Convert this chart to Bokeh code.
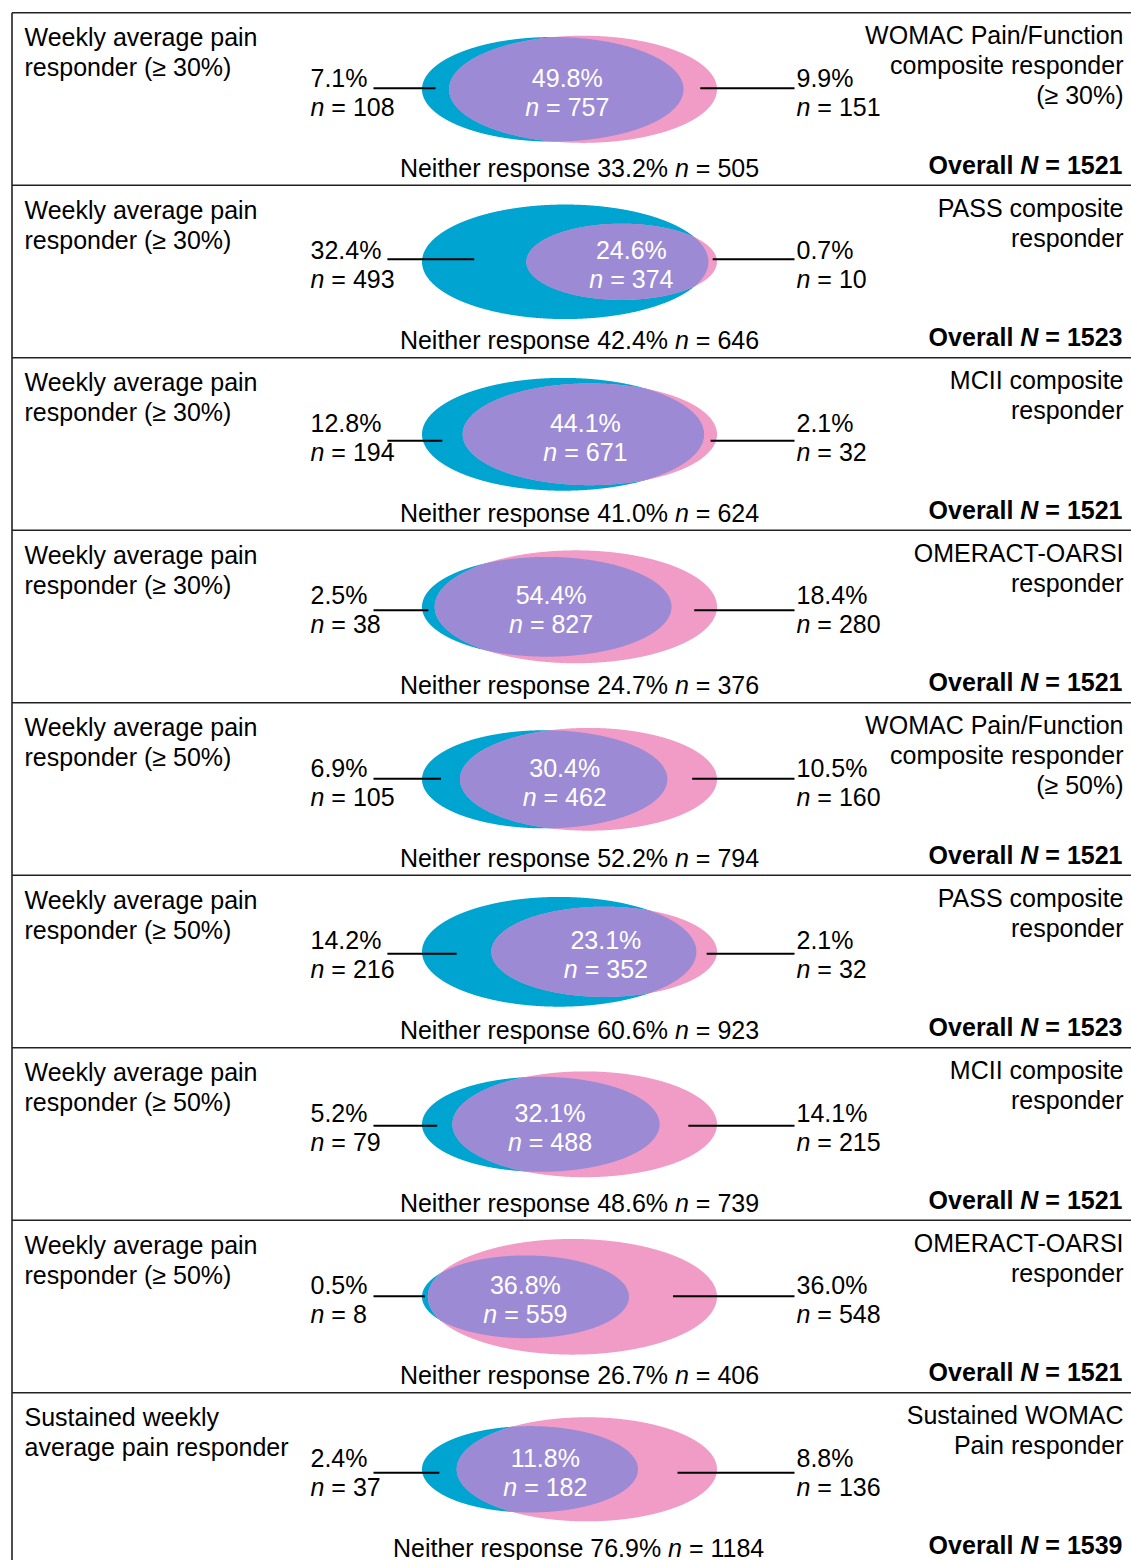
import math
import numpy as np
from bokeh.plotting import figure
from bokeh.models import Range1d
from bokeh.embed import file_html
from bokeh.resources import INLINE
from bokeh.core.properties import value

# ---------------- data ----------------
left_titles = [
    ["Weekly average pain", "responder (≥ 30%)"],
    ["Weekly average pain", "responder (≥ 30%)"],
    ["Weekly average pain", "responder (≥ 30%)"],
    ["Weekly average pain", "responder (≥ 30%)"],
    ["Weekly average pain", "responder (≥ 50%)"],
    ["Weekly average pain", "responder (≥ 50%)"],
    ["Weekly average pain", "responder (≥ 50%)"],
    ["Weekly average pain", "responder (≥ 50%)"],
    ["Sustained weekly", "average pain responder"],
]
right_titles = [
    ["WOMAC Pain/Function", "composite responder", "(≥ 30%)"],
    ["PASS composite", "responder"],
    ["MCII composite", "responder"],
    ["OMERACT-OARSI", "responder"],
    ["WOMAC Pain/Function", "composite responder", "(≥ 50%)"],
    ["PASS composite", "responder"],
    ["MCII composite", "responder"],
    ["OMERACT-OARSI", "responder"],
    ["Sustained WOMAC", "Pain responder"],
]
left_pct = ["7.1%", "32.4%", "12.8%", "2.5%", "6.9%", "14.2%", "5.2%", "0.5%", "2.4%"]
left_n = [108, 493, 194, 38, 105, 216, 79, 8, 37]
both_pct = ["49.8%", "24.6%", "44.1%", "54.4%", "30.4%", "23.1%", "32.1%", "36.8%", "11.8%"]
both_n = [757, 374, 671, 827, 462, 352, 488, 559, 182]
right_pct = ["9.9%", "0.7%", "2.1%", "18.4%", "10.5%", "2.1%", "14.1%", "36.0%", "8.8%"]
right_n = [151, 10, 32, 280, 160, 32, 215, 548, 136]
neither_pct = ["33.2%", "42.4%", "41.0%", "24.7%", "52.2%", "60.6%", "48.6%", "26.7%", "76.9%"]
neither_n = [505, 646, 624, 376, 794, 923, 739, 406, 1184]
overall_n = [1521, 1523, 1521, 1521, 1521, 1523, 1521, 1521, 1539]

# ---------------- style ----------------
FONT = "Liberation Sans"
FS = 25.0
FS_S = "25px"
MID = 0.35 * FS          # baseline -> middle offset
BLUE = "#00A4D0"
PINK = "#F19CC6"
PURPLE = "#9C8BD4"
FRAME = "#222222"

W, H = 1131, 1560
PANEL_TOP0 = 12.3
PANEL_H = 172.5
UNION_LEFT = 421.5
UNION_W = 295.0
ASPECT = 2.5
# small per-panel layout nudges (px): leader-line height, overlap-label shift
LINE_DY = [-1.5, -3, 6, 3, -1, 1.5, 1, -1, 3]
LABEL_DX = [1, 14, 2, -2, 1, 12, -6, -3, -2]

# Arial / Liberation Sans advance widths (per 1000 em)
REG = {" ": 278, ".": 278, "%": 889, "=": 584, "N": 722, "e": 556, "i": 222,
       "t": 278, "h": 556, "r": 333, "s": 500, "p": 556, "o": 556, "n": 556}
BOLD = {" ": 278, "=": 584, "O": 778, "v": 556, "e": 556, "r": 389, "a": 556,
        "l": 278, "N": 722}


def tw(s, table=REG):
    return sum(table.get(c, 556) for c in s) / 1000.0 * FS


def lens_area(r1, r2, d):
    if d >= r1 + r2:
        return 0.0
    if d <= abs(r1 - r2):
        return math.pi * min(r1, r2) ** 2
    a = r1 * r1 * math.acos((d * d + r1 * r1 - r2 * r2) / (2 * d * r1))
    b = r2 * r2 * math.acos((d * d + r2 * r2 - r1 * r1) / (2 * d * r2))
    c = 0.5 * math.sqrt((-d + r1 + r2) * (d + r1 - r2) * (d - r1 + r2) * (d + r1 + r2))
    return a + b - c


def solve(A1, A2, ov):
    r1, r2 = math.sqrt(A1 / math.pi), math.sqrt(A2 / math.pi)
    lo, hi = abs(r1 - r2) + 1e-9, r1 + r2
    for _ in range(200):
        mid = 0.5 * (lo + hi)
        if lens_area(r1, r2, mid) > ov:
            lo = mid
        else:
            hi = mid
    return r1, r2, 0.5 * (lo + hi)


p = figure(width=W, height=H, output_backend="svg", toolbar_location=None,
           x_range=Range1d(0, W), y_range=Range1d(H, 0),
           x_axis_location=None, y_axis_location=None, min_border=0)
p.grid.visible = False
p.outline_line_color = None
p.background_fill_color = "white"

blue_xs, blue_ys, pink_xs, pink_ys, pur_xs, pur_ys = [], [], [], [], [], []
seg = dict(x0=[], y0=[], x1=[], y1=[])
txt_reg = dict(x=[], y=[], t=[], align=[], color=[])
txt_it = dict(x=[], y=[], t=[], align=[], color=[])
txt_b = dict(x=[], y=[], t=[], align=[])
txt_bi = dict(x=[], y=[], t=[], align=[])


def add(d, x, baseline, t, align="left", color="black"):
    d["x"].append(x); d["y"].append(baseline - MID); d["t"].append(t); d["align"].append(align)
    if "color" in d:
        d["color"].append(color)


theta = np.linspace(0, 2 * np.pi, 1441)

for i in range(9):
    T = PANEL_TOP0 + PANEL_H * i
    cy = T + 76.5
    A1 = left_n[i] + both_n[i]
    A2 = both_n[i] + right_n[i]
    r1, r2, d = solve(A1, A2, both_n[i])
    el, er = min(-r1, d - r2), max(r1, d + r2)
    k = UNION_W / (er - el)
    cx1 = UNION_LEFT - k * el
    cx2 = cx1 + k * d
    a1, a2 = k * r1, k * r2
    b1, b2 = a1 / ASPECT, a2 / ASPECT
    x1 = cx1 + a1 * np.cos(theta); y1 = cy + b1 * np.sin(theta)
    x2 = cx2 + a2 * np.cos(theta); y2 = cy + b2 * np.sin(theta)
    blue_xs.append(x1); blue_ys.append(y1)
    pink_xs.append(x2); pink_ys.append(y2)
    in2 = ((x1 - cx2) / a2) ** 2 + ((y1 - cy) / b2) ** 2 <= 1
    in1 = ((x2 - cx1) / a1) ** 2 + ((y2 - cy) / b1) ** 2 <= 1
    px = np.concatenate([x1[in2], x2[in1]]); py = np.concatenate([y1[in2], y2[in1]])
    mx, my = px.mean(), py.mean()
    order = np.argsort(np.arctan2(py - my, px - mx))
    pur_xs.append(px[order]); pur_ys.append(py[order])

    lefts = sorted([cx1 - a1, cx2 - a2]); rights = sorted([cx1 + a1, cx2 + a2])
    inter_cx = 0.5 * (lefts[1] + rights[0]) + LABEL_DX[i]
    line_y = cy + 0.5 + LINE_DY[i]
    # leader lines
    seg["x0"].append(310 + tw(left_pct[i]) + 6); seg["x1"].append(0.5 * (lefts[0] + lefts[1]))
    seg["y0"].append(line_y); seg["y1"].append(line_y)
    seg["x0"].append(0.5 * (rights[0] + rights[1])); seg["x1"].append(794)
    seg["y0"].append(line_y); seg["y1"].append(line_y)

    yp, yn = T + 73.5, T + 102.5
    # left labels
    add(txt_reg, 310, yp, left_pct[i])
    add(txt_it, 310, yn, "n")
    add(txt_reg, 310 + tw("n "), yn, "= %d" % left_n[i])
    # right labels
    add(txt_reg, 796, yp, right_pct[i])
    add(txt_it, 796, yn, "n")
    add(txt_reg, 796 + tw("n "), yn, "= %d" % right_n[i])
    # overlap labels
    add(txt_reg, inter_cx, yp, both_pct[i], "center", "white")
    rest = "= %d" % both_n[i]
    wtot = tw("n ") + tw(rest)
    sx = inter_cx - wtot / 2
    add(txt_it, sx, yn, "n", "left", "white")
    add(txt_reg, sx + tw("n "), yn, rest, "left", "white")
    # neither
    s1 = "Neither response %s" % neither_pct[i]
    s3 = "= %d" % neither_n[i]
    wtot = tw(s1 + " ") + tw("n ") + tw(s3)
    sx = 579 - wtot / 2
    yb = T + 163.5
    add(txt_reg, sx, yb, s1)
    add(txt_it, sx + tw(s1 + " "), yb, "n")
    add(txt_reg, sx + tw(s1 + " ") + tw("n "), yb, s3)
    # overall
    yo = T + 160.5
    rx = 1122
    s3 = "= %d" % overall_n[i]
    add(txt_b, rx, yo, s3, "right")
    rx2 = rx - tw(" " + s3, BOLD)
    add(txt_bi, rx2, yo, "N", "right")
    rx3 = rx2 - tw(" N", BOLD)
    add(txt_b, rx3, yo, "Overall", "right")
    # titles
    for j, line in enumerate(left_titles[i]):
        add(txt_reg, 24, T + 33 + 30 * j, line)
    for j, line in enumerate(right_titles[i]):
        add(txt_reg, 1123, T + 31 + 30 * j, line, "right")

p.patches(blue_xs, blue_ys, fill_color=BLUE, line_color=None)
p.patches(pink_xs, pink_ys, fill_color=PINK, line_color=None)
p.patches(pur_xs, pur_ys, fill_color=PURPLE, line_color=None)
p.segment(x0="x0", y0="y0", x1="x1", y1="y1", source=seg, line_color="black", line_width=2)

# frame
fy = [PANEL_TOP0 + PANEL_H * i for i in range(9)]
p.segment(x0=[11.5] * 9, y0=fy, x1=[W] * 9, y1=fy, line_color=FRAME, line_width=1.6)
p.segment(x0=[11.5], y0=[PANEL_TOP0], x1=[11.5], y1=[H], line_color=FRAME, line_width=1.6)

common = dict(x="x", y="y", text="t", text_align="align", text_font=value(FONT),
              text_font_size=FS_S, text_baseline="middle")
p.text(source=txt_reg, text_color="color", **common)
p.text(source=txt_it, text_color="color", text_font_style="italic", **common)
p.text(source=txt_b, text_color="black", text_font_style="bold", **common)
p.text(source=txt_bi, text_color="black", text_font_style="bold italic", **common)

open("out.html", "w").write(file_html(p, INLINE))
